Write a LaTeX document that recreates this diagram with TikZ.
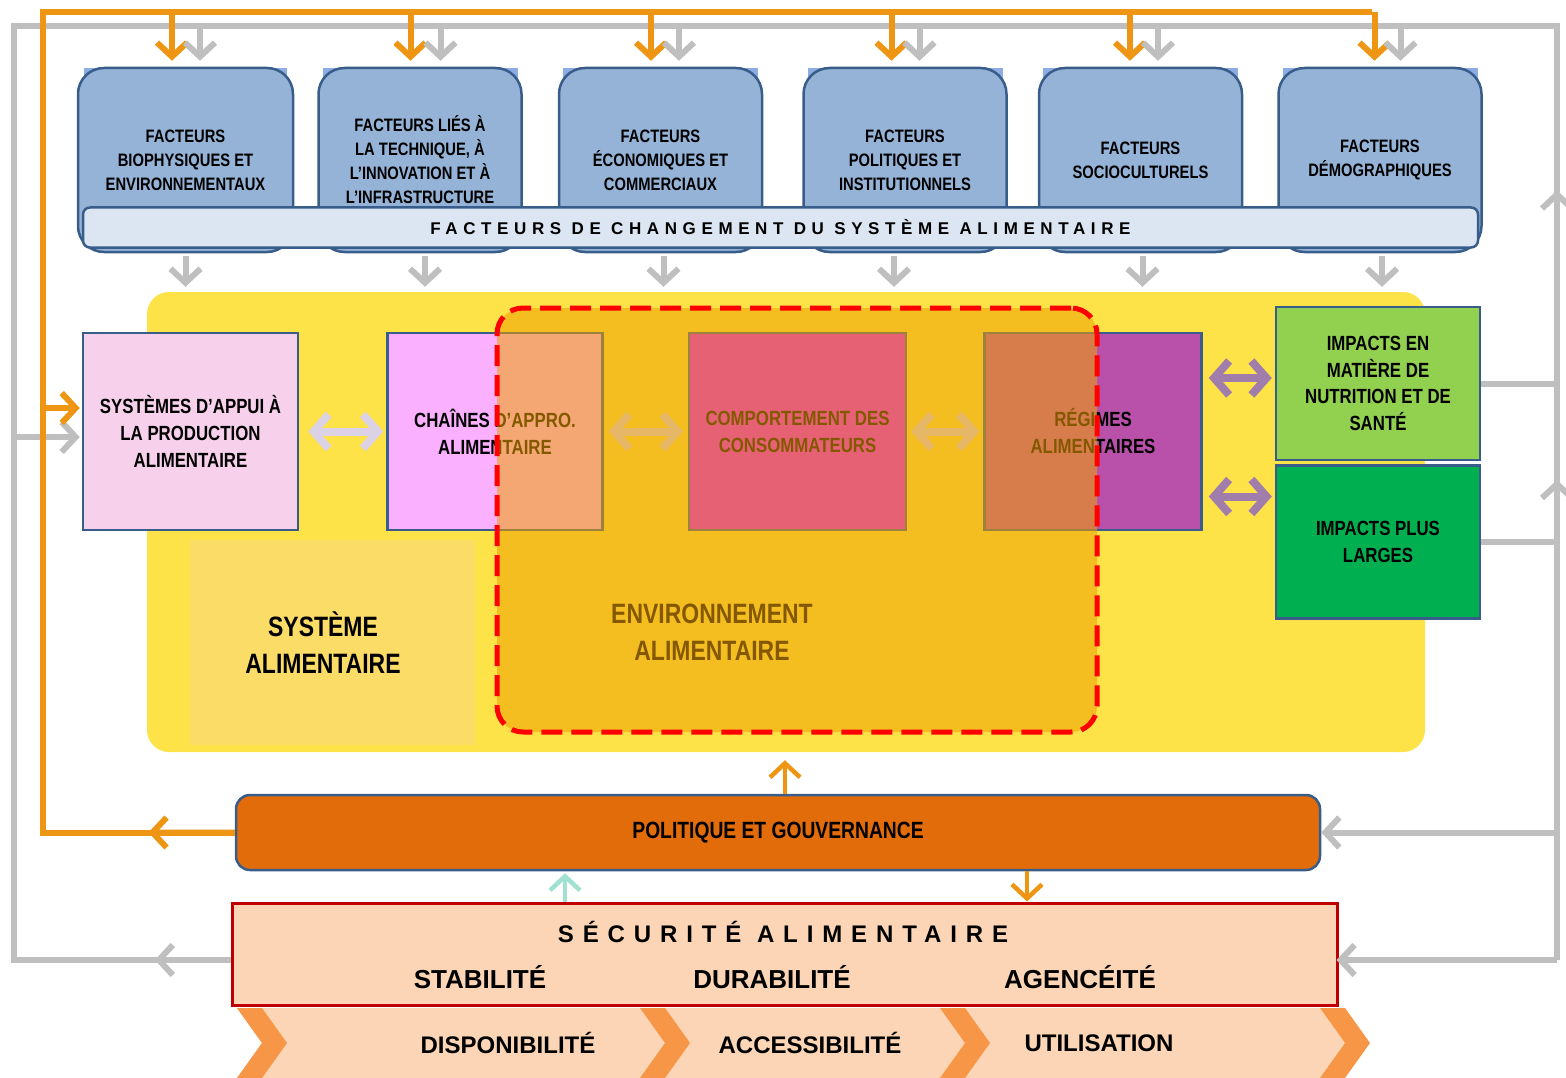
\documentclass[tikz,border=0pt]{standalone}
\usepackage{fontspec}
\setmainfont{Liberation Sans}
\newfontfamily\narrowfont[FakeStretch=0.82]{Liberation Sans}
\definecolor{factorblue}{RGB}{149,179,215}
\definecolor{shadeblue}{RGB}{141,172,226}
\definecolor{bannerfill}{RGB}{220,230,242}
\definecolor{boxline}{RGB}{56,93,138}
\definecolor{arroworange}{RGB}{238,150,20}
\definecolor{loopgray}{RGB}{191,191,191}
\definecolor{sysyellow}{RGB}{253,226,72}
\definecolor{syspanelyellow}{RGB}{250,220,102}
\definecolor{envorange}{RGB}{240,162,0}
\definecolor{appuipink}{RGB}{247,208,236}
\definecolor{chainpink}{RGB}{250,175,255}
\definecolor{comportpink}{RGB}{220,20,255}
\definecolor{regimepurple}{RGB}{185,80,170}
\definecolor{nutgreen}{RGB}{146,208,80}
\definecolor{largegreen}{RGB}{0,176,80}
\definecolor{polorange}{RGB}{227,108,10}
\definecolor{secpeach}{RGB}{251,213,181}
\definecolor{secred}{RGB}{192,0,0}
\definecolor{chevorange}{RGB}{247,150,70}
\definecolor{linklavender}{RGB}{220,210,230}
\definecolor{linkpurple}{RGB}{160,125,170}
\definecolor{tealarrow}{RGB}{160,225,210}
\definecolor{dashred}{RGB}{255,0,0}
\usetikzlibrary{
  arrows.meta,
  backgrounds,
  calc,
  positioning,
}
\tikzset{
  >={Straight Barb[length=14pt,width=30pt]},
  factorbox/.style={draw=boxline,line width=2.5pt,fill=factorblue,rounded corners=26pt,minimum width=203,minimum height=184,align=center,font=\narrowfont\bfseries\fontsize{18}{24}\selectfont},
  factorshade/.style={fill=shadeblue,minimum width=203,minimum height=144},
  bannerbox/.style={draw=boxline,line width=2.5pt,fill=bannerfill,rounded corners=7pt,minimum width=1395,minimum height=40,font=\bfseries\fontsize{17}{20}\selectfont\addfontfeature{LetterSpace=33}},
  sysarea/.style={fill=sysyellow,rounded corners=22pt,minimum width=1278,minimum height=460},
  syspanel/.style={fill=syspanelyellow,minimum width=285,minimum height=205},
  systext/.style={align=center,font=\narrowfont\bfseries\fontsize{28}{37}\selectfont},
  midbox/.style={draw=boxline,line width=2.5pt,minimum width=215,minimum height=197,align=center,font=\narrowfont\bfseries\fontsize{20.5}{27}\selectfont},
  impactbox/.style={draw=boxline,line width=2.5pt,minimum width=204,minimum height=153,align=center,font=\narrowfont\bfseries\fontsize{20.5}{26.5}\selectfont},
  envzone/.style={draw=dashred,line width=5pt,dash pattern=on 21pt off 9pt,rounded corners=26pt,fill=envorange,fill opacity=0.55,minimum width=600,minimum height=424},
  policybar/.style={draw=boxline,line width=2.5pt,fill=polorange,rounded corners=14pt,minimum width=1084,minimum height=75,font=\narrowfont\bfseries\fontsize{23.5}{28}\selectfont},
  securitybox/.style={draw=secred,line width=3pt,fill=secpeach,minimum width=1105,minimum height=102},
  sectitle/.style={font=\bfseries\fontsize{24}{28}\selectfont\addfontfeature{LetterSpace=37}},
  pillarlabel/.style={font=\bfseries\fontsize{26}{30}\selectfont},
  steplabel/.style={font=\bfseries\fontsize{24}{28}\selectfont},
  orangeflow/.style={draw=arroworange,line width=6pt},
  grayflow/.style={draw=loopgray,line width=6pt},
  tealflow/.style={draw=tealarrow,line width=4.5pt},
  linkflow/.style={draw=linklavender,line width=8pt,>={Straight Barb[length=15pt,width=34pt]},<->},
  impactlink/.style={draw=linkpurple,line width=8pt,>={Straight Barb[length=15pt,width=34pt]},<->},
}

\begin{document}
\begin{tikzpicture}[x=1pt,y=-1pt,node distance=25pt]
    \useasboundingbox (0,0) rectangle (1566,1078);

        \node[factorbox,minimum width=215]    (f1)    at (185.5,160)    {FACTEURS\\BIOPHYSIQUES ET\\ENVIRONNEMENTAUX};
        \node[factorbox]    (f2)    [right=23pt of f1]    {FACTEURS LIÉS À\\LA TECHNIQUE, À\\L’INNOVATION ET À\\L’INFRASTRUCTURE};
        \node[factorbox]    (f3)    [right=35pt of f2]    {FACTEURS\\ÉCONOMIQUES ET\\COMMERCIAUX};
        \node[factorbox]    (f4)    [right=39pt of f3]    {FACTEURS\\POLITIQUES ET\\INSTITUTIONNELS};
        \node[factorbox]    (f5)    [right=30pt of f4]    {FACTEURS\\SOCIOCULTURELS};
        \node[factorbox]    (f6)    [right=34pt of f5]    {FACTEURS\\DÉMOGRAPHIQUES};
        \node[bannerbox]    (changement)    at (780.5,227.5)    {FACTEURS DE CHANGEMENT DU SYSTÈME ALIMENTAIRE};

        \begin{scope}[on background layer]
        \node[factorshade,minimum width=203]    (f1shade)    at ([yshift=20pt]f1)    {};
        \node[factorshade,minimum width=195]    (f2shade)    at ([yshift=20pt]f2)    {};
        \node[factorshade,minimum width=195]    (f3shade)    at ([yshift=20pt]f3)    {};
        \node[factorshade,minimum width=195]    (f4shade)    at ([yshift=20pt]f4)    {};
        \node[factorshade,minimum width=195]    (f5shade)    at ([yshift=20pt]f5)    {};
        \node[factorshade,minimum width=195]    (f6shade)    at ([yshift=20pt]f6)    {};
        \end{scope}

        \node[sysarea]    (systeme)    at (786,522)    {};
        \node[syspanel]    (syspanel)    at (332.5,642.5)    {};
        \node[systext]    (sysname)    at (323,643)    {SYSTÈME\\ALIMENTAIRE};

        \node[midbox,fill=appuipink]    (appui)    at (190.5,431.5)    {SYSTÈMES D’APPUI À\\LA PRODUCTION\\ALIMENTAIRE};
        \node[midbox,fill=chainpink]    (chaine)    [right=87pt of appui]    {CHAÎNES D’APPRO.\\ALIMENTAIRE};
        \node[midbox,fill=comportpink,minimum width=217]    (comport)    [right=84pt of chaine]    {COMPORTEMENT DES\\CONSOMMATEURS};
        \node[midbox,fill=regimepurple,minimum width=217]    (regimes)    [right=76pt of comport]    {RÉGIMES\\ALIMENTAIRES};

        \draw[linkflow,shorten <=9pt,shorten >=3pt]    (appui.east) -- (chaine.west);
        \draw[linkflow,shorten <=5pt,shorten >=5pt]    (chaine.east) -- (comport.west);
        \draw[linkflow,shorten <=4pt,shorten >=4pt]    (comport.east) -- (regimes.west);

        \node[systext]    (envname)    at (712,632)    {ENVIRONNEMENT\\ALIMENTAIRE};
        \node[envzone]    (environnement)    at (797,520)    {};

        \node[impactbox,fill=nutgreen]    (impnut)    at (1378,383.5)    {IMPACTS EN\\MATIÈRE DE\\NUTRITION ET DE\\SANTÉ};
        \node[impactbox,fill=largegreen]    (implarge)    [below=3pt of impnut]    {IMPACTS PLUS\\LARGES};

        \draw[impactlink,shorten <=6pt,shorten >=3pt]    ([yshift=53.5pt]regimes.east) -- ([yshift=53.5pt]regimes.east -| impnut.west);
        \draw[impactlink,shorten <=6pt,shorten >=3pt]    ([yshift=-65pt]regimes.east) -- ([yshift=-65pt]regimes.east -| implarge.west);

        \node[policybar]    (politique)    at (778,832.5)    {POLITIQUE ET GOUVERNANCE};

        \node[securitybox]    (securite)    at (784.5,954)    {};
        \node[sectitle]    (secname)    at (783,932)    {SÉCURITÉ ALIMENTAIRE};
        \node[pillarlabel]    (stabilite)    at (480,977)    {STABILITÉ};
        \node[pillarlabel]    (durabilite)    at (772,977)    {DURABILITÉ};
        \node[pillarlabel]    (agenceite)    at (1080,977)    {AGENCÉITÉ};

        \fill[secpeach] (237,1008) -- (1320,1008) -- (1345,1043) -- (1320,1078) -- (237,1078) -- (262,1043) -- cycle;
        \fill[chevorange] (237,1008) -- (262,1008) -- (287,1043) -- (262,1078) -- (237,1078) -- (262,1043) -- cycle;
        \fill[chevorange] (640,1008) -- (665,1008) -- (690,1043) -- (665,1078) -- (640,1078) -- (665,1043) -- cycle;
        \fill[chevorange] (940,1008) -- (965,1008) -- (990,1043) -- (965,1078) -- (940,1078) -- (965,1043) -- cycle;
        \fill[chevorange] (1320,1008) -- (1345,1008) -- (1370,1043) -- (1345,1078) -- (1320,1078) -- (1345,1043) -- cycle;
        \node[steplabel]    (disponibilite)    at (508,1043)    {DISPONIBILITÉ};
        \node[steplabel]    (accessibilite)    at (810,1043)    {ACCESSIBILITÉ};
        \node[steplabel]    (utilisation)    at (1099,1043)    {UTILISATION};

        % boucles de retour
        \coordinate (oTL) at (43,12);
        \coordinate (oTR) at (1372,12);
        \coordinate (gTL) at (14,26);
        \coordinate (gTR) at (1557,26);
        \coordinate (gBL) at (14,960);
        \coordinate (gBR) at (1557,960);

        \draw[grayflow] ([yshift=-6pt]securite.west) -- (gBL) -- (gTL) -- (gTR) -- (gBR);
        \draw[grayflow,->] ([yshift=-6pt]securite.west) -- ($([yshift=-6pt]securite.west)!0.35!(gBL)$);
        \draw[grayflow,->,shorten >=-2pt] (gBR) -- ([yshift=-6pt]securite.east);
        \draw[grayflow,->] (politique.east -| gTR) -- (politique.east);
        \draw[grayflow] (impnut.east) -- (impnut.east -| gTR);
        \draw[grayflow] (implarge.east) -- (implarge.east -| gTR);
        \draw[grayflow,->] (implarge.east -| gTR) -- ($(gTR)!0.486!(gBR)$);
        \draw[grayflow,->] (impnut.east -| gTR) -- ($(gTR)!0.176!(gBR)$);
        \draw[grayflow,->,shorten >=2pt] ([yshift=-5.5pt]appui.west -| gTL) -- ([yshift=-5.5pt]appui.west);

        \draw[orangeflow] (politique.west) -- (politique.west -| oTL) -- (oTL) -- (oTR);
        \draw[orangeflow,->] (politique.west) -- ($(politique.west)!0.45!(politique.west -| oTL)$);
        \draw[orangeflow,->,shorten >=2pt] ([yshift=23.5pt]appui.west -| oTL) -- ([yshift=23.5pt]appui.west);

        \draw[orangeflow,->,shorten >=6pt] ([xshift=-13.5pt]f1.north |- oTL) -- ([xshift=-13.5pt]f1.north);
        \draw[orangeflow,->,shorten >=6pt] ([xshift=-9.5pt]f2.north |- oTL) -- ([xshift=-9.5pt]f2.north);
        \draw[orangeflow,->,shorten >=6pt] ([xshift=-9.5pt]f3.north |- oTL) -- ([xshift=-9.5pt]f3.north);
        \draw[orangeflow,->,shorten >=6pt] ([xshift=-13.5pt]f4.north |- oTL) -- ([xshift=-13.5pt]f4.north);
        \draw[orangeflow,->,shorten >=6pt] ([xshift=-10.5pt]f5.north |- oTL) -- ([xshift=-10.5pt]f5.north);
        \draw[orangeflow,->,shorten >=6pt] ([xshift=-5.5pt]f6.north |- oTL) -- ([xshift=-5.5pt]f6.north);

        \draw[grayflow,->,shorten >=6pt] ([xshift=14.5pt]f1.north |- gTL) -- ([xshift=14.5pt]f1.north);
        \draw[grayflow,->,shorten >=6pt] ([xshift=20.5pt]f2.north |- gTL) -- ([xshift=20.5pt]f2.north);
        \draw[grayflow,->,shorten >=6pt] ([xshift=18.5pt]f3.north |- gTL) -- ([xshift=18.5pt]f3.north);
        \draw[grayflow,->,shorten >=6pt] ([xshift=14.5pt]f4.north |- gTL) -- ([xshift=14.5pt]f4.north);
        \draw[grayflow,->,shorten >=6pt] ([xshift=17.5pt]f5.north |- gTL) -- ([xshift=17.5pt]f5.north);
        \draw[grayflow,->,shorten >=6pt] ([xshift=20.5pt]f6.north |- gTL) -- ([xshift=20.5pt]f6.north);

        \draw[grayflow,->,shorten <=3pt,shorten >=5pt] (f1.south) -- (f1.south |- systeme.north);
        \draw[grayflow,->,shorten <=3pt,shorten >=5pt] ([xshift=5pt]f2.south) -- ([xshift=5pt]f2.south |- systeme.north);
        \draw[grayflow,->,shorten <=3pt,shorten >=5pt] ([xshift=3pt]f3.south) -- ([xshift=3pt]f3.south |- systeme.north);
        \draw[grayflow,->,shorten <=3pt,shorten >=5pt] ([xshift=-11pt]f4.south) -- ([xshift=-11pt]f4.south |- systeme.north);
        \draw[grayflow,->,shorten <=3pt,shorten >=5pt] ([xshift=2pt]f5.south) -- ([xshift=2pt]f5.south |- systeme.north);
        \draw[grayflow,->,shorten <=3pt,shorten >=5pt] ([xshift=2pt]f6.south) -- ([xshift=2pt]f6.south |- systeme.north);

        \draw[orangeflow,->,line width=4.5pt,shorten >=8pt] ([xshift=7pt]politique.north) -- ([xshift=7pt]politique.north |- systeme.south);
        \draw[orangeflow,->,line width=4.5pt] ([xshift=249pt]politique.south) -- ([xshift=249pt]politique.south |- securite.north);
        \draw[tealflow,->,shorten >=2pt] ([xshift=-219.5pt]securite.north) -- ([xshift=-219.5pt]securite.north |- politique.south);

    \end{tikzpicture}
\end{document}
